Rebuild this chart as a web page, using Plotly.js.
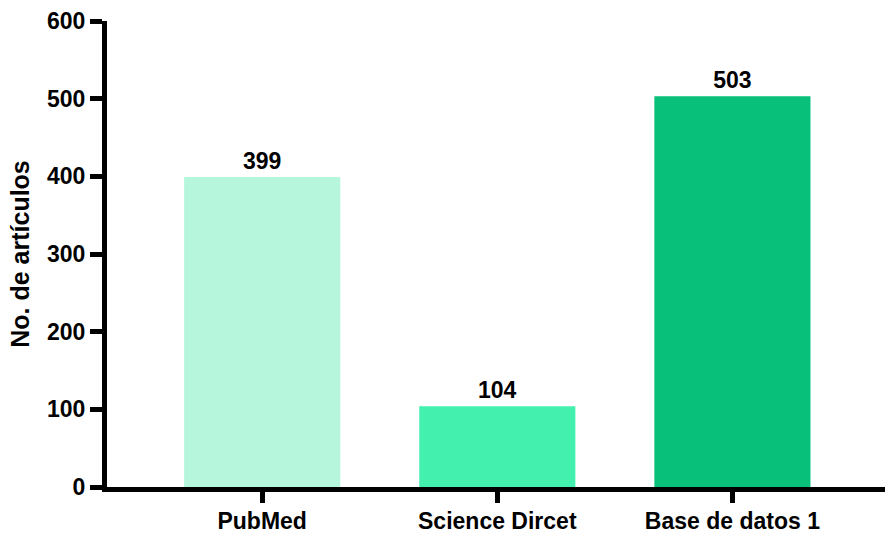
<!DOCTYPE html>
<html>
<head>
<meta charset="utf-8">
<script src="https://cdn.plot.ly/plotly-3.0.1.min.js"></script>
<style>
  html, body { margin: 0; padding: 0; background: #ffffff; }
  #chart { width: 885px; height: 534px; }
</style>
</head>
<body>
<div id="chart"></div>
<script>
// Number of articles retrieved per database
const categories = ["PubMed", "Science Dircet", "Base de datos 1"];
const articleCounts = [399, 104, 503];
const barColors = ["#b5f6dd", "#44f0ae", "#08c07a"];
const yTickValues = [0, 100, 200, 300, 400, 500, 600];

const fontFamily = "'Liberation Sans', Arial, Helvetica, sans-serif";

const trace = {
  type: "bar",
  x: categories,
  y: articleCounts,
  width: 0.664,
  marker: { color: barColors, line: { width: 0 } },
  text: articleCounts.map(String),
  textposition: "outside",
  cliponaxis: false,
  textfont: { family: fontFamily, size: 23, color: "#000000", weight: "bold" },
  hoverinfo: "skip"
};

const layout = {
  width: 885,
  height: 534,
  margin: { l: 107, r: 0, t: 21, b: 47, pad: 0 },
  paper_bgcolor: "#ffffff",
  plot_bgcolor: "#ffffff",
  showlegend: false,
  font: { family: fontFamily, color: "#000000" },
  xaxis: {
    type: "category",
    range: [-0.66, 2.649],
    showline: true,
    linecolor: "#000000",
    linewidth: 5,
    ticks: "outside",
    ticklen: 11,
    tickwidth: 5,
    tickcolor: "#000000",
    ticklabelstandoff: -2,
    showgrid: false,
    zeroline: false,
    tickfont: { family: fontFamily, size: 23, color: "#000000", weight: "bold" },
    fixedrange: true
  },
  yaxis: {
    range: [0, 600],
    tickvals: yTickValues,
    ticktext: yTickValues.map(String),
    showline: true,
    linecolor: "#000000",
    linewidth: 5,
    ticks: "outside",
    ticklen: 12,
    tickwidth: 5,
    tickcolor: "#000000",
    showgrid: false,
    zeroline: false,
    tickfont: { family: fontFamily, size: 23, color: "#000000", weight: "bold" },
    title: {
      text: "No. de artículos",
      font: { family: fontFamily, size: 25, color: "#000000", weight: "bold" },
      standoff: 12
    },
    fixedrange: true
  }
};

Plotly.newPlot("chart", [trace], layout, { displayModeBar: false, staticPlot: true });
</script>
</body>
</html>
